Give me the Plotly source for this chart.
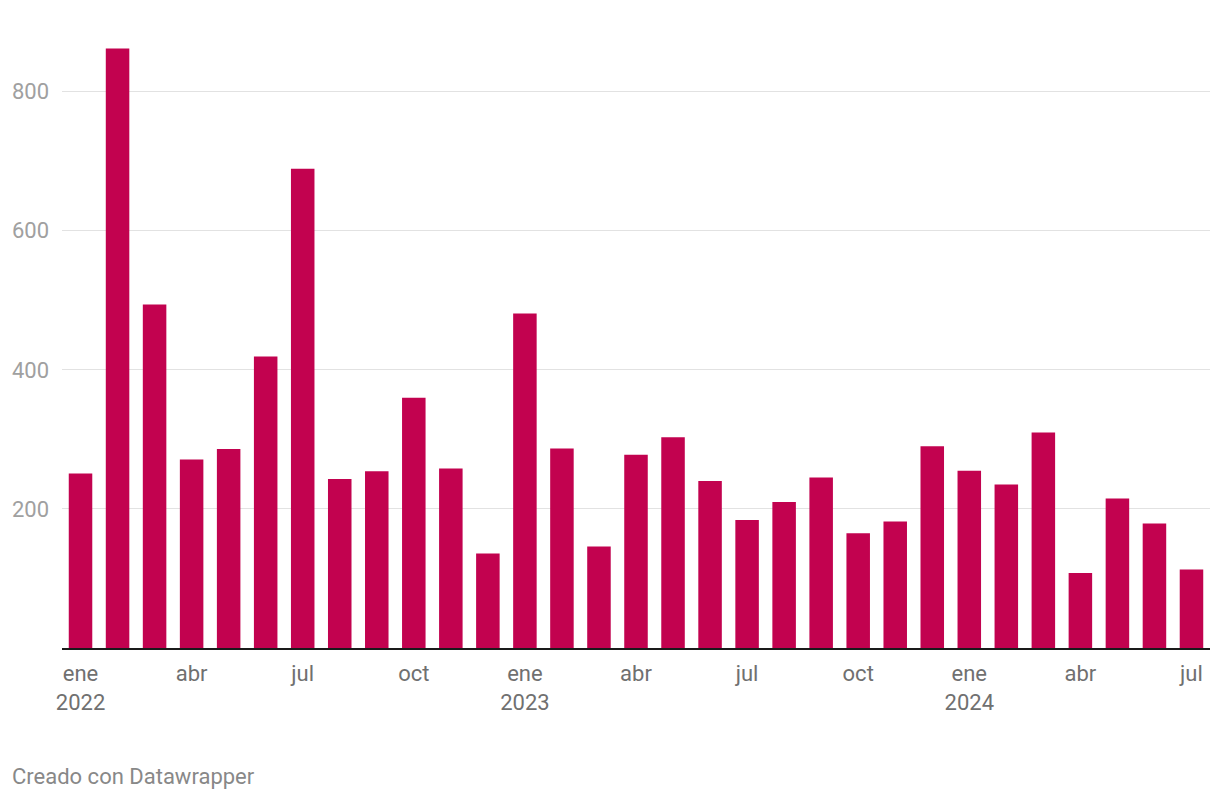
import plotly.graph_objects as go

months = ["ene", "feb", "mar", "abr", "may", "jun", "jul", "ago", "sep", "oct", "nov", "dic"]
years = [2022, 2023, 2024]
values = [251, 862, 494, 271, 286, 419, 689, 243, 254, 360, 258, 136,
          481, 287, 146, 278, 303, 240, 184, 210, 245, 165, 182, 290,
          255, 235, 310, 108, 215, 179, 113]

n = len(values)
x = list(range(n))
tickvals = list(range(0, n, 3))
ticktext = []
for i in tickvals:
    m = months[i % 12]
    if i % 12 == 0:
        ticktext.append(f"{m}<br>{years[i // 12]}")
    else:
        ticktext.append(m)

fig = go.Figure(go.Bar(x=x, y=values, marker=dict(color="#c2024f", line=dict(width=0)),
                       hoverinfo="y"))

fig.update_layout(
    width=1220, height=800,
    margin=dict(l=54, r=18, t=28, b=160),
    plot_bgcolor="white", paper_bgcolor="white",
    bargap=0.365,
    showlegend=False,
    font=dict(family="Roboto", size=22, color="#999999"),
    xaxis=dict(
        range=[-0.5, n - 0.5],
        tickmode="array", tickvals=tickvals, ticktext=ticktext,
        tickfont=dict(size=22, color="#707070"),
        showgrid=False, zeroline=False,
        showline=True, linecolor="#1a1a1a", linewidth=2,
        ticks="", ticklabelstandoff=5, automargin=False,
    ),
    yaxis=dict(
        range=[0, 880],
        tickvals=[200, 400, 600, 800],
        tickfont=dict(size=22, color="#a0a0a0"),
        showgrid=True, gridcolor="#e2e2e2", gridwidth=1,
        zeroline=False, ticks="", ticklabelstandoff=12, automargin=False,
    ),
    annotations=[dict(
        text="Creado con Datawrapper", xref="paper", yref="paper",
        x=0, y=0, xanchor="left", yanchor="middle",
        xshift=-52, yshift=-128, showarrow=False,
        font=dict(size=22, color="#888888", family="Roboto"),
    )],
)

fig.write_html("out.html")
